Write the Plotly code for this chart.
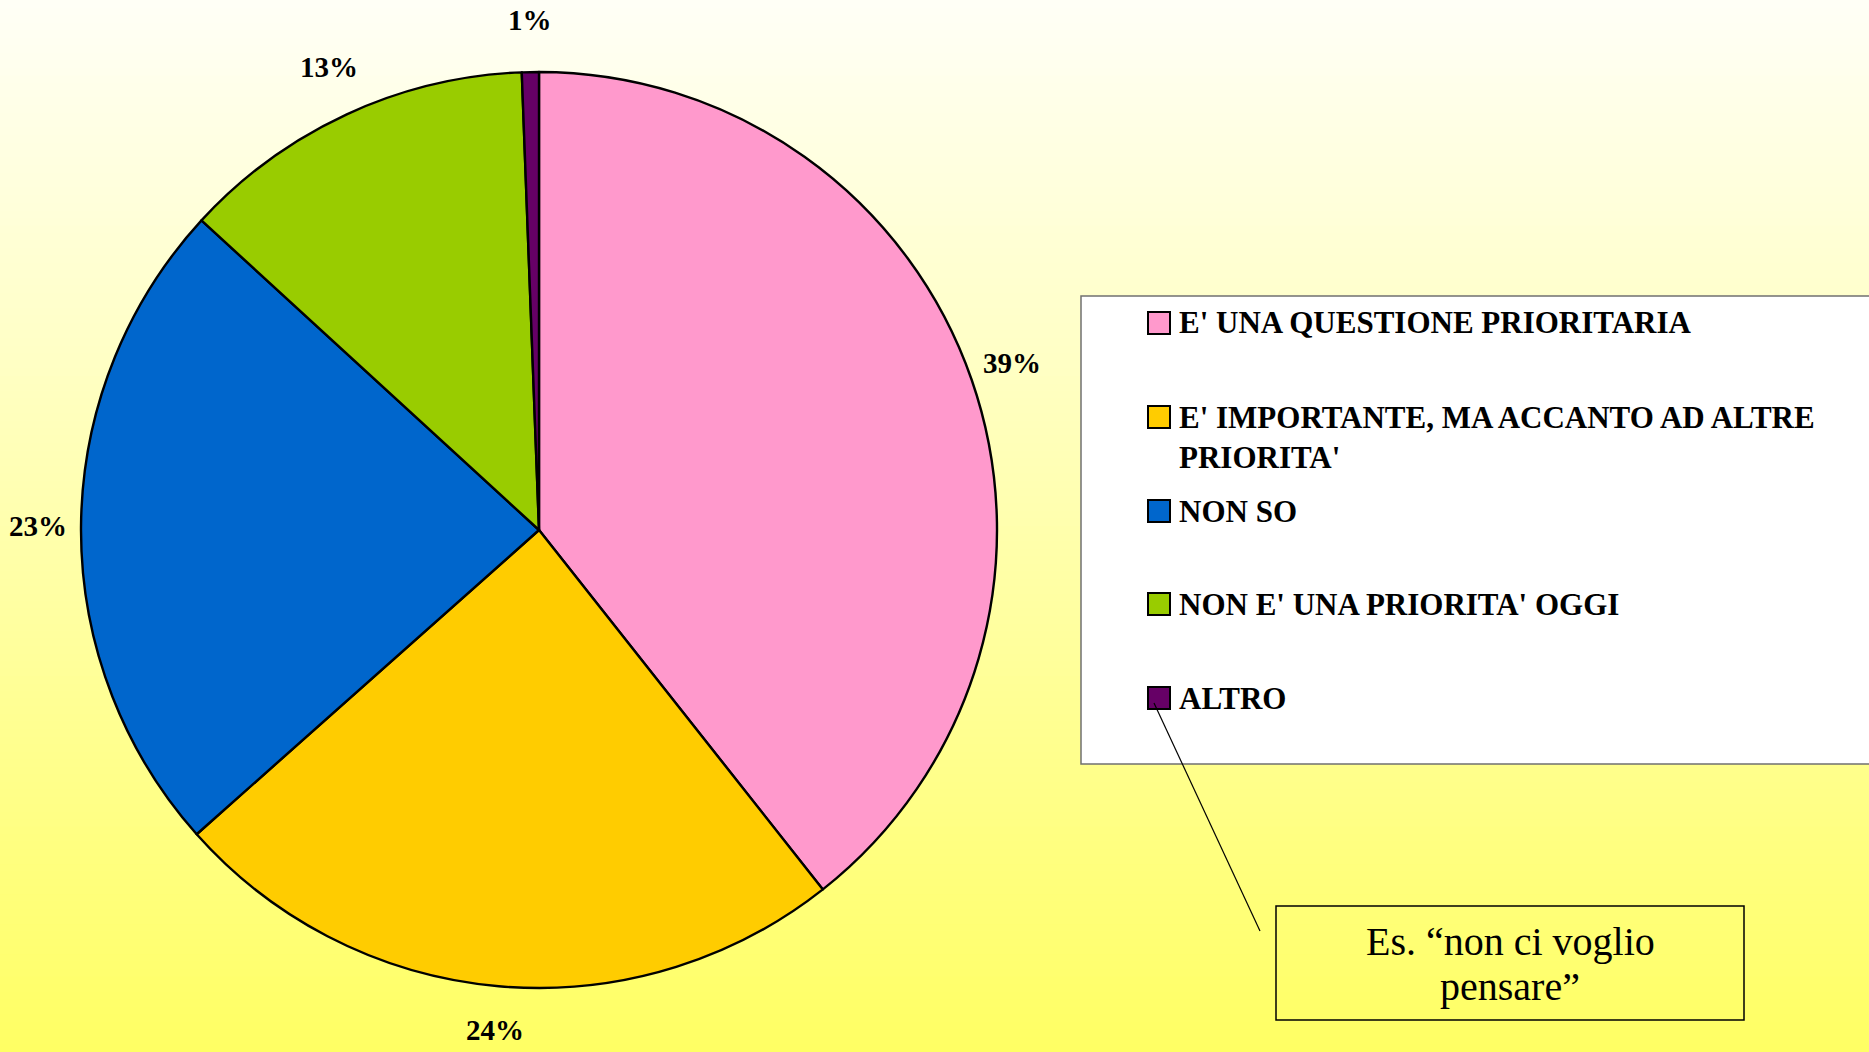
import math
import plotly.graph_objects as go

W, H = 1869, 1052

categories = [
    "E' UNA QUESTIONE PRIORITARIA",
    "E' IMPORTANTE, MA ACCANTO AD ALTRE PRIORITA'",
    "NON SO",
    "NON E' UNA PRIORITA' OGGI",
    "ALTRO",
]
legend_lines = [
    ["E' UNA QUESTIONE PRIORITARIA"],
    ["E' IMPORTANTE, MA ACCANTO AD ALTRE", "PRIORITA'"],
    ["NON SO"],
    ["NON E' UNA PRIORITA' OGGI"],
    ["ALTRO"],
]
values = [39.4, 24.1, 23.4, 12.6, 0.6]
colors = ["#FF99CC", "#FFCC00", "#0066CC", "#99CC00", "#660066"]
callout_lines = ["Es. “non ci voglio", "pensare”"]


def px(x):
    return x / W


def py(y):
    return 1 - y / H


fig = go.Figure()

cx, cy, r = 539, 530, 458
fig.add_trace(go.Pie(
    labels=categories,
    values=values,
    sort=False,
    direction="clockwise",
    rotation=0,
    marker=dict(colors=colors, line=dict(color="black", width=2.4)),
    textinfo="none",
    domain=dict(x=[px(cx - r), px(cx + r)], y=[py(cy + r), py(cy - r)]),
    showlegend=False,
    hoverinfo="label+percent",
))

annotations = []
# percentage labels placed outside the pie, derived from the values
total = sum(values)
cum = 0.0
label_rx = r + 43
label_ry_top = r + 52
label_ry_bottom = r + 44
for v in values:
    mid = (cum + v / 2) / total * 2 * math.pi
    cum += v
    c = math.cos(mid)
    lry = label_ry_top if c > 0 else label_ry_bottom
    lx = cx + label_rx * math.sin(mid)
    ly = cy - lry * c
    annotations.append(dict(
        x=px(lx), y=py(ly), xref="paper", yref="paper",
        xanchor="center", yanchor="middle", showarrow=False,
        text="<b>%d%%</b>" % round(v / total * 100),
        font=dict(family="Liberation Serif", size=29, color="black")))

shapes = []
# background gradient
n = 140
top = (255, 255, 246)
bot = (255, 255, 100)
for i in range(n):
    t = i / (n - 1)
    col = tuple(round(top[k] + (bot[k] - top[k]) * t) for k in range(3))
    shapes.append(dict(type="rect", xref="paper", yref="paper",
                       x0=0, x1=1, y0=1 - i / n, y1=1 - (i + 1) / n - 0.001,
                       fillcolor="rgb(%d,%d,%d)" % col, line=dict(width=0),
                       layer="below"))

# legend box
shapes.append(dict(type="rect", xref="paper", yref="paper",
                   x0=px(1081), x1=px(1880), y0=py(764), y1=py(296),
                   fillcolor="white", line=dict(color="#707070", width=1.5)))

item_y = [323, 417, 511, 604, 698]
for i, lines in enumerate(legend_lines):
    yc = item_y[i]
    shapes.append(dict(type="rect", xref="paper", yref="paper",
                       x0=px(1148), x1=px(1170), y0=py(yc + 11), y1=py(yc - 11),
                       fillcolor=colors[i], line=dict(color="black", width=2)))
    for j, txt in enumerate(lines):
        annotations.append(dict(
            x=px(1177), y=py(yc + j * 40), xref="paper", yref="paper",
            xanchor="left", yanchor="middle", showarrow=False,
            text="<b>%s</b>" % txt,
            font=dict(family="Liberation Serif", size=31, color="black")))

# callout connector and box
shapes.append(dict(type="line", xref="paper", yref="paper",
                   x0=px(1154), y0=py(703), x1=px(1260), y1=py(931),
                   line=dict(color="black", width=1.2)))
shapes.append(dict(type="rect", xref="paper", yref="paper",
                   x0=px(1276), x1=px(1744), y0=py(1020), y1=py(906),
                   fillcolor="rgba(0,0,0,0)", line=dict(color="black", width=1.5)))
for j, txt in enumerate(callout_lines):
    annotations.append(dict(
        x=px(1510), y=py(941 + j * 45), xref="paper", yref="paper",
        xanchor="center", yanchor="middle", showarrow=False,
        text=txt,
        font=dict(family="Liberation Serif", size=40, color="black")))

fig.update_layout(
    width=W, height=H,
    margin=dict(l=0, r=0, t=0, b=0),
    paper_bgcolor="#FFFFB0",
    plot_bgcolor="rgba(0,0,0,0)",
    shapes=shapes,
    annotations=annotations,
    showlegend=False,
)

fig.write_html(
    "out.html",
    config={"displayModeBar": False},
    post_script="document.body.style.margin='0';document.body.style.overflow='hidden';",
)
